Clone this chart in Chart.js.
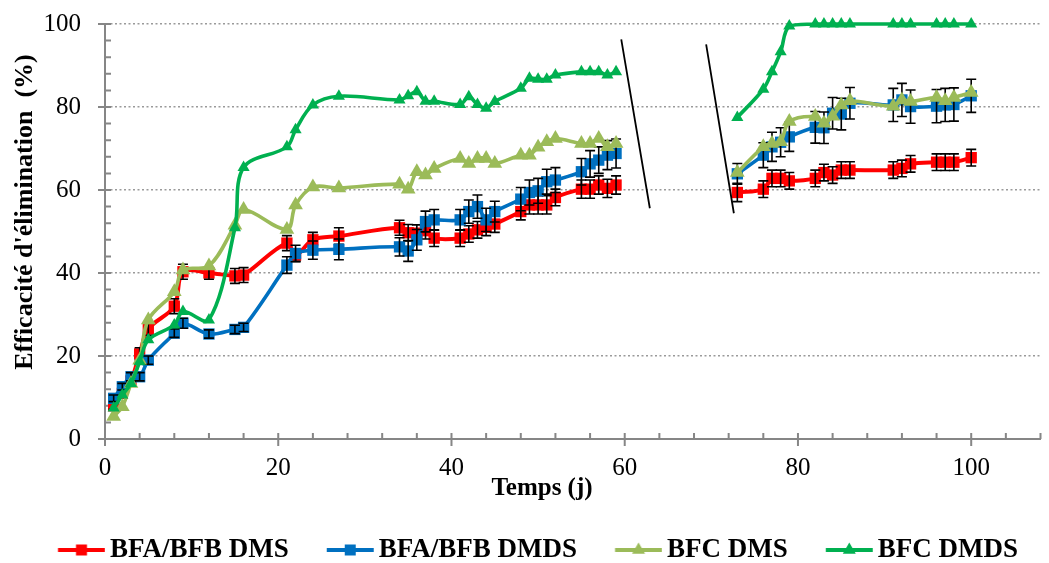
<!DOCTYPE html>
<html>
<head>
<meta charset="utf-8">
<script src="https://cdn.jsdelivr.net/npm/chart.js@4.4.1/dist/chart.umd.min.js"></script>
<style>
	html, body { margin: 0; padding: 0; background: #fff; }
	#chart { display: block; }
</style>
</head>
<body>
<canvas id="chart" width="1049" height="563"></canvas>
<script>
// sampling days (j)
const days = [1, 2, 3, 4, 5, 8, 9, 12, 15, 16, 21, 22, 24, 27, 34, 35, 36, 37, 38, 41, 42, 43, 44, 45, 48, 49, 50, 51, 52, 55, 56, 57, 58, 59,
	73, 76, 77, 78, 79, 82, 83, 84, 85, 86, 91, 92, 93, 96, 97, 98, 100];

const bfaDms = [8, 11, 14, 20.5, 26.5, 32, 40.3, 40, 39.3, 39.5, 47.2, 44.3, 48, 48.9, 50.9, 49.7, 49.6, 50.2, 48.4, 48.4, 49.4, 50.4, 51, 51.8, 54.8, 56.4, 56.4, 56.4, 58.2, 60.2, 60.2, 61.2, 60.4, 61.2,
	59.4, 60.2, 62.8, 62.8, 62.2, 62.8, 64.2, 63.6, 64.8, 64.8, 64.8, 65.2, 66.3, 66.7, 66.7, 66.7, 67.8];
const bfaDmsErr = [0.8, 0.8, 1, 1.5, 1.5, 1.8, 1.8, 1.5, 1.8, 1.8, 1.8, 1.5, 1.8, 2, 1.8, 2, 2, 2, 2, 2, 2, 2, 2, 2, 2, 2.2, 2.2, 2.2, 2, 2.2, 2.2, 2.2, 2.2, 2.2,
	2.2, 2, 2, 2, 2, 2, 2, 2, 2, 2, 2, 2, 2, 2, 2, 2, 2];

const bfaDmds = [9.8, 12.6, 15, 15, 19, 25.5, 27.9, 25.3, 26.4, 26.9, 41.9, 44.7, 45.5, 45.7, 46.3, 45.3, 48, 52.4, 52.8, 52.8, 54.8, 56, 52.8, 54.8, 57.8, 59.4, 59.8, 62, 62.4, 64.4, 66.3, 67.2, 68.4, 68.8,
	63.9, 68.4, 70.4, 71.5, 72.8, 75.1, 75, 78.5, 78.3, 80.9, 80.5, 81.7, 80.1, 80.2, 80.5, 80.6, 82.7];
const bfaDmdsErr = [0.8, 0.8, 1, 1, 1, 1, 1.2, 1, 1, 1, 2, 2, 2.2, 2.5, 2.2, 2.5, 2.5, 2.5, 2.5, 2.5, 2.8, 2.8, 2.8, 2.5, 2.8, 3, 3, 3, 3, 3.2, 3.2, 3.2, 3.5, 3.5,
	2.5, 3, 3.5, 3.5, 3.5, 3.8, 3.8, 3.8, 3.8, 3.8, 4, 4, 4, 4, 4, 4, 4];

const bfcDms = [5.4, 7.8, 13.4, 19, 28.7, 35.5, 40.7, 41.7, 51.5, 55.3, 50.5, 56.4, 60.7, 60.5, 61.4, 60.2, 64.4, 63.6, 65.2, 67.6, 66.4, 67.6, 67.6, 66.4, 68.4, 68.4, 70.3, 71.6, 72.4, 71.2, 71.2, 72.4, 70.4, 71.2,
	64.2, 70.4, 71.2, 71.6, 76.5, 77.7, 76.1, 77.8, 80.5, 81.5, 80.2, 81.7, 81.3, 82.3, 81.5, 82.3, 83.5];

const bfcDmds = [7.5, 10.6, 13.4, 18.6, 23.9, 27.5, 30.7, 28.7, 50.9, 65.4, 70.4, 74.5, 80.5, 82.6, 81.7, 82.7, 83.7, 81.4, 81.4, 80.6, 82.5, 80.6, 79.7, 81.3, 84.5, 86.9, 86.7, 86.7, 87.7, 88.5, 88.5, 88.5, 87.7, 88.5,
	77.5, 84.3, 88.5, 93.3, 99.5, 100, 100, 100, 100, 100, 100, 100, 100, 100, 100, 100, 100];

const seriesNames = ['BFA/BFB DMS', 'BFA/BFB DMDS', 'BFC DMS', 'BFC DMDS'];
const xTicks = [0, 20, 40, 60, 80, 100];
const yTicks = [0, 20, 40, 60, 80, 100];

const FONT = '"Liberation Serif", "Times New Roman", serif';
const AXIS_COLOR = '#868686';

// points with a gap between the two measurement periods
function toPoints(vals, errs) {
	const pts = [];
	days.forEach((d, i) => {
		if (i > 0 && d - days[i - 1] > 10) pts.push({ x: (d + days[i - 1]) / 2, y: null });
		const p = { x: d, y: vals[i] };
		if (errs) p.err = errs[i];
		pts.push(p);
	});
	return pts;
}

// legend symbol: line with the marker in the middle (leading blank part is the gap between items)
function legendIcon(color, style, r) {
	const c = document.createElement('canvas');
	c.width = 84;
	c.height = 20;
	const g = c.getContext('2d');
	g.strokeStyle = color;
	g.fillStyle = color;
	g.lineWidth = 4;
	g.beginPath();
	g.moveTo(36.75, 10);
	g.lineTo(83.75, 10);
	g.stroke();
	const cx = 60.25;
	g.beginPath();
	if (style === 'rect') {
		g.rect(cx - 5.5, 4.5, 11, 11);
	} else {
		g.moveTo(cx, 10 - r);
		g.lineTo(cx + r * 0.866, 10 + r / 2);
		g.lineTo(cx - r * 0.866, 10 + r / 2);
		g.closePath();
	}
	g.fill();
	return c;
}

const icons = [
	legendIcon('#FF0000', 'rect'),
	legendIcon('#0070C0', 'rect'),
	legendIcon('#9BBB59', 'triangle', 7.5),
	legendIcon('#00B050', 'triangle', 7.5),
];

const errorBars = {
	id: 'errorBars',
	afterDatasetDraw(chart, args) {
		const ds = chart.data.datasets[args.index];
		const ys = chart.scales.y;
		const { ctx } = chart;
		ctx.save();
		ctx.strokeStyle = '#000';
		ctx.lineWidth = 1.6;
		args.meta.data.forEach((pt, i) => {
			const raw = ds.data[i];
			if (raw.y == null || raw.err == null) return;
			const top = ys.getPixelForValue(raw.y + raw.err);
			const bot = ys.getPixelForValue(raw.y - raw.err);
			ctx.beginPath();
			ctx.moveTo(pt.x, top);
			ctx.lineTo(pt.x, bot);
			ctx.moveTo(pt.x - 5, top);
			ctx.lineTo(pt.x + 5, top);
			ctx.moveTo(pt.x - 5, bot);
			ctx.lineTo(pt.x + 5, bot);
			ctx.stroke();
		});
		ctx.restore();
	},
};

const axisDecor = {
	id: 'axisDecor',
	beforeDatasetsDraw(chart) {
		const { ctx, chartArea: a, scales: { x, y } } = chart;
		ctx.save();
		ctx.strokeStyle = AXIS_COLOR;
		ctx.lineWidth = 2;
		ctx.beginPath();
		for (let v = 0; v <= 100; v += 4) {
			const py = y.getPixelForValue(v);
			const major = v % 20 === 0;
			ctx.moveTo(a.left - (major ? 7 : 0), py);
			ctx.lineTo(a.left + 6, py);
		}
		for (let v = 0; v <= x.max; v += 4) {
			const px = x.getPixelForValue(v);
			const major = v % 20 === 0;
			ctx.moveTo(px, a.bottom + (major ? 7 : 0));
			ctx.lineTo(px, a.bottom - 6);
		}
		ctx.stroke();
		ctx.restore();
	},
	afterDraw(chart) {
		const { ctx, scales: { x, y } } = chart;
		ctx.save();
		// axis break marks
		ctx.strokeStyle = '#000';
		ctx.lineWidth = 1.8;
		ctx.beginPath();
		ctx.moveTo(x.getPixelForValue(59.6), y.getPixelForValue(96.3));
		ctx.lineTo(x.getPixelForValue(62.9), y.getPixelForValue(55.6));
		ctx.moveTo(x.getPixelForValue(69.4), y.getPixelForValue(95.1));
		ctx.lineTo(x.getPixelForValue(72.6), y.getPixelForValue(54.4));
		ctx.stroke();
		// axis titles
		ctx.fillStyle = '#000';
		ctx.font = 'bold 25px ' + FONT;
		ctx.textAlign = 'center';
		ctx.textBaseline = 'middle';
		ctx.fillText('Temps (j)', 542, 489);
		ctx.translate(25, 212);
		ctx.rotate(-Math.PI / 2);
		ctx.font = 'bold 26px ' + FONT;
		ctx.fillText("Efficacité d'élimination  (%)", 0, 0);
		ctx.restore();
	},
};

function lineSet(label, data, color, style, radius, width, order) {
	return {
		label,
		data,
		borderColor: color,
		backgroundColor: color,
		pointBackgroundColor: color,
		pointBorderColor: color,
		pointBorderWidth: 0,
		pointStyle: style,
		pointRadius: radius,
		pointHoverRadius: radius,
		borderWidth: width,
		tension: 0.35,
		clip: false,
		order,
	};
}

const ctx = document.getElementById('chart').getContext('2d');
new Chart(ctx, {
	type: 'line',
	data: {
		datasets: [
			lineSet(seriesNames[0], toPoints(bfaDms, bfaDmsErr), '#FF0000', 'rect', 8, 4, 4),
			lineSet(seriesNames[1], toPoints(bfaDmds, bfaDmdsErr), '#0070C0', 'rect', 8, 3.6, 3),
			lineSet(seriesNames[2], toPoints(bfcDms), '#9BBB59', 'triangle', 8.5, 3.6, 2),
			lineSet(seriesNames[3], toPoints(bfcDmds), '#00B050', 'triangle', 7, 3.6, 1),
		],
	},
	options: {
		responsive: false,
		animation: false,
		events: [],
		layout: { padding: { top: 24, left: 1, right: 2, bottom: -10.5 } },
		scales: {
			x: {
				type: 'linear',
				min: 0,
				max: 108,
				afterBuildTicks(scale) {
					scale.ticks = xTicks.map((v) => ({ value: v }));
				},
				afterFit(scale) {
					scale.height = 87.5;
				},
				grid: { display: false, drawTicks: false },
				border: { display: true, color: AXIS_COLOR, width: 2 },
				ticks: {
					padding: 14,
					color: '#000',
					maxRotation: 0,
					font: { family: FONT, size: 25 },
				},
			},
			y: {
				min: 0,
				max: 100,
				afterBuildTicks(scale) {
					scale.ticks = yTicks.map((v) => ({ value: v }));
				},
				afterFit(scale) {
					scale.width = 104;
					scale.paddingTop = 0;
					scale.paddingBottom = 0;
				},
				grid: {
					drawTicks: false,
					color: (c) => (c.tick && c.tick.value === 0 ? 'rgba(0,0,0,0)' : '#9a9a9a'),
					lineWidth: 1.6,
				},
				border: { display: true, color: AXIS_COLOR, width: 2, dash: [2, 2.5] },
				ticks: {
					padding: 24,
					color: '#000',
					font: { family: FONT, size: 25 },
				},
			},
		},
		plugins: {
			tooltip: { enabled: false },
			legend: {
				position: 'bottom',
				labels: {
					usePointStyle: true,
					pointStyleWidth: 66.5,
					padding: 10,
					color: '#000',
					font: { family: FONT, size: 27, weight: 'bold' },
					sort: (a, b) => a.datasetIndex - b.datasetIndex,
					generateLabels(chart) {
						const items = Chart.defaults.plugins.legend.labels.generateLabels(chart);
						items.forEach((it) => { it.pointStyle = icons[it.datasetIndex]; });
						return items;
					},
				},
			},
		},
	},
	plugins: [errorBars, axisDecor],
});
</script>
</body>
</html>
